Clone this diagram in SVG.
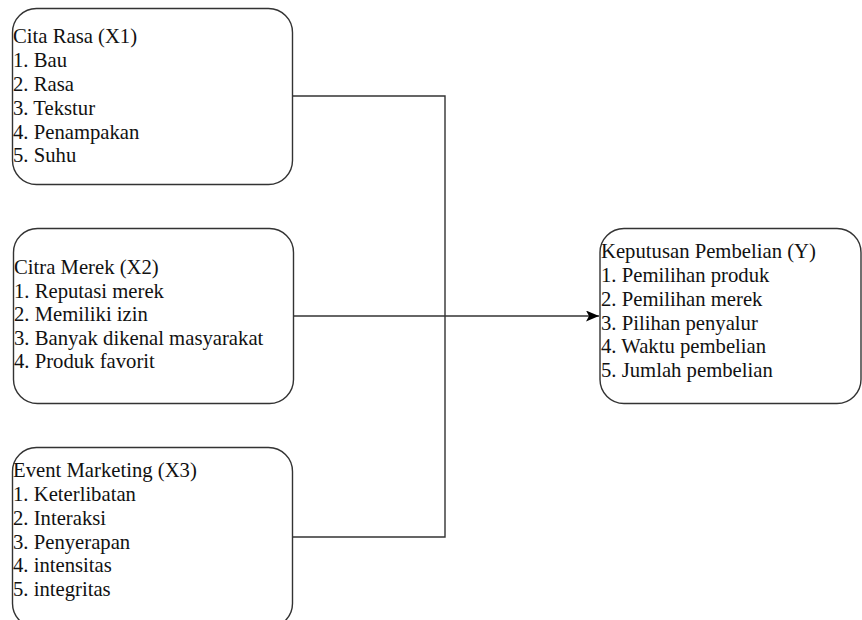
<svg xmlns="http://www.w3.org/2000/svg" width="862" height="620" viewBox="0 0 862 620">
<style>
.box{fill:#ffffff;stroke:#333333;stroke-width:1.4}
.t{font-family:"Liberation Serif","Times New Roman",serif;font-size:20.7px;fill:#111111}
.c{fill:none;stroke:#333333;stroke-width:1.4}
</style>
<defs>
<marker id="arr" markerWidth="13" markerHeight="11" refX="13" refY="5.5" orient="auto" markerUnits="userSpaceOnUse">
<path d="M0,0 L13,5.5 L0,11 L3,5.5 Z" fill="#000000"/>
</marker>
</defs>
<rect width="862" height="620" fill="#ffffff"/>
<g id="connectors">
<path class="c" d="M292,96 H445 V537 H292"/>
<path class="c" d="M293,316 H599" marker-end="url(#arr)"/>
</g>
<g id="x1">
<rect class="box" x="12.5" y="8.5" width="280" height="176" rx="24" ry="24"/>
<text class="t"><tspan x="13" y="43">Cita Rasa (X1)</tspan><tspan x="13" y="67">1. Bau</tspan><tspan x="13" y="91">2. Rasa</tspan><tspan x="13" y="114.5">3. Tekstur</tspan><tspan x="13" y="138.5">4. Penampakan</tspan><tspan x="13" y="162">5. Suhu</tspan></text>
</g>
<g id="x2">
<rect class="box" x="13.5" y="228.5" width="280" height="175" rx="24" ry="24"/>
<text class="t"><tspan x="14" y="274">Citra Merek (X2)</tspan><tspan x="14" y="297.5">1. Reputasi merek</tspan><tspan x="14" y="321">2. Memiliki izin</tspan><tspan x="14" y="344.5">3. Banyak dikenal masyarakat</tspan><tspan x="14" y="368">4. Produk favorit</tspan></text>
</g>
<g id="x3">
<rect class="box" x="12.5" y="447.5" width="280" height="180" rx="24" ry="24"/>
<text class="t"><tspan x="13" y="477">Event Marketing (X3)</tspan><tspan x="13" y="501">1. Keterlibatan</tspan><tspan x="13" y="525">2. Interaksi</tspan><tspan x="13" y="548.5">3. Penyerapan</tspan><tspan x="13" y="572">4. intensitas</tspan><tspan x="13" y="596">5. integritas</tspan></text>
</g>
<g id="y">
<rect class="box" x="600" y="228.5" width="261" height="175" rx="24" ry="24"/>
<text class="t"><tspan x="601" y="258">Keputusan Pembelian (Y)</tspan><tspan x="601" y="282">1. Pemilihan produk</tspan><tspan x="601" y="305.5">2. Pemilihan merek</tspan><tspan x="601" y="329.5">3. Pilihan penyalur</tspan><tspan x="601" y="353">4. Waktu pembelian</tspan><tspan x="601" y="377">5. Jumlah pembelian</tspan></text>
</g>
</svg>
